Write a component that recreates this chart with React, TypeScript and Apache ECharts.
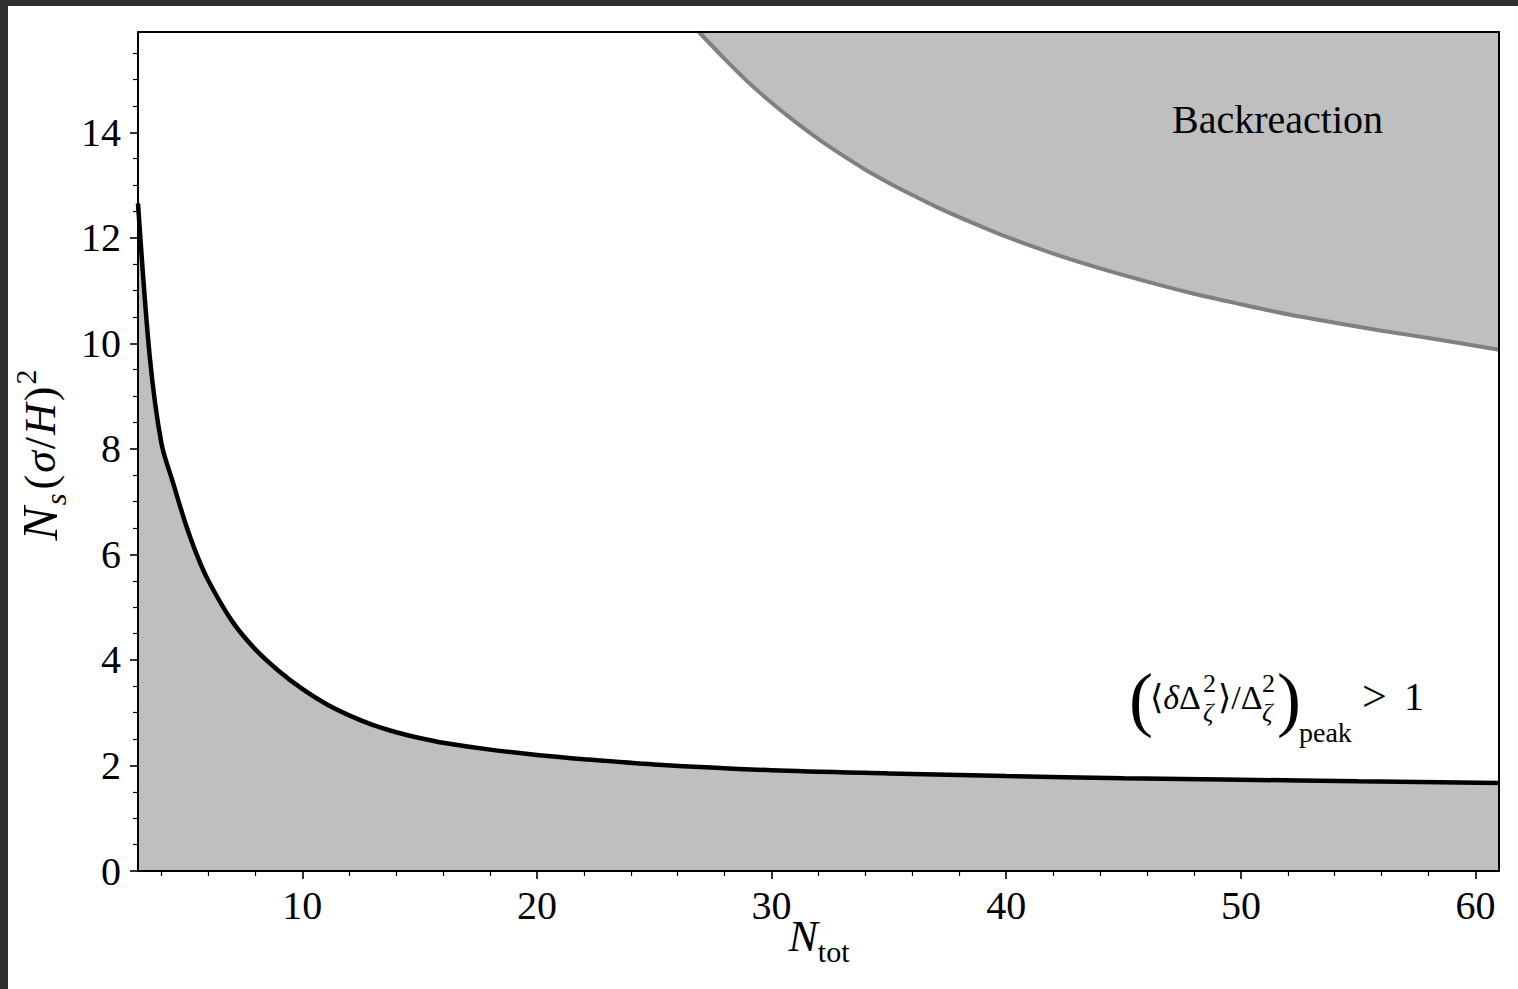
import React, { useEffect, useRef } from "react";
import * as echarts from "echarts";

// ---- data ----
const nTotPeak = [3, 3.5, 4, 4.5, 5, 5.5, 6, 7, 8, 9, 10, 11, 12, 13, 14, 15, 16, 18, 20, 22, 25, 30, 35, 40, 45, 50, 55, 61];
const peakBound = [12.65, 9.75, 8.1, 7.35, 6.62, 6.0, 5.5, 4.74, 4.2, 3.79, 3.45, 3.17, 2.95, 2.77, 2.63, 2.52, 2.43, 2.3, 2.2, 2.12, 2.02, 1.91, 1.85, 1.8, 1.76, 1.73, 1.7, 1.67];

const nTotBack = [26.9, 28, 29, 30, 31, 32, 33, 34, 35, 36, 37, 38, 40, 42, 44, 46, 48, 50, 52, 54, 56, 58, 61];
const backBound = [15.9, 15.39, 14.95, 14.56, 14.2, 13.87, 13.57, 13.29, 13.04, 12.81, 12.59, 12.39, 12.02, 11.7, 11.42, 11.17, 10.94, 10.74, 10.55, 10.39, 10.24, 10.1, 9.88];

const xMajorTicks = [10, 20, 30, 40, 50, 60];
const xMinorTicks = [4, 6, 8, 12, 14, 16, 18, 22, 24, 26, 28, 32, 34, 36, 38, 42, 44, 46, 48, 52, 54, 56, 58];
const yMajorTicks = [0, 2, 4, 6, 8, 10, 12, 14];
const yMinorTicks = [0.5, 1, 1.5, 2.5, 3, 3.5, 4.5, 5, 5.5, 6.5, 7, 7.5, 8.5, 9, 9.5, 10.5, 11, 11.5, 12.5, 13, 13.5, 14.5, 15, 15.5];

const X_MIN = 3;
const X_MAX = 61;
const Y_MIN = 0;
const Y_MAX = 15.9;

const FONT = "'Liberation Serif', 'DejaVu Serif', serif";
const FILL = "#bfbfbf";

const txt = (text: string, x: number, y: number, fontSize: number, extra: any = {}) => ({
  type: "text",
  x,
  y,
  z: 100,
  style: {
    text,
    fontSize,
    fontFamily: FONT,
    fill: "#000",
    align: "left",
    verticalAlign: "middle",
    ...extra,
  },
});

const richTxt = (text: string, x: number, y: number, rich: any) => ({
  type: "text",
  x,
  y,
  z: 100,
  style: { text, fill: "#000", align: "left", verticalAlign: "middle", rich },
});

const ANN = 34;
const annRich = {
  r: { fontSize: ANN, fontFamily: FONT, lineHeight: 40, verticalAlign: "middle" },
  i: { fontSize: ANN, fontFamily: FONT, fontStyle: "italic", lineHeight: 40, verticalAlign: "middle" },
};

export default function App() {
  const ref = useRef<HTMLDivElement>(null);

  useEffect(() => {
    document.documentElement.style.background = "#2f2f2f";
    document.body.style.margin = "6px 0 0 8px";
    document.body.style.background = "#2f2f2f";
    document.body.style.overflow = "hidden";

    const chart = echarts.init(ref.current!, undefined, { renderer: "svg" });

    const spine = { show: true, onZero: false, lineStyle: { color: "#000", width: 2 } };
    const labelStyle = { color: "#000", fontFamily: FONT, fontSize: 40, lineHeight: 40 };
    const gridBox = { left: 130, right: 19, top: 26, bottom: 118 };

    const option: any = {
      animation: false,
      backgroundColor: "#fff",
      grid: [
        { ...gridBox, containLabel: false },
        { ...gridBox, containLabel: false },
      ],
      xAxis: [
        {
          type: "value", gridIndex: 0, min: X_MIN, max: X_MAX, position: "bottom", z: 10,
          axisLine: spine,
          axisTick: { show: true, customValues: xMajorTicks, length: 8, lineStyle: { color: "#000", width: 1.6 } },
          axisLabel: { customValues: xMajorTicks, margin: 14, ...labelStyle },
          splitLine: { show: false },
        },
        {
          type: "value", gridIndex: 0, min: X_MIN, max: X_MAX, position: "top", z: 10,
          axisLine: spine, axisTick: { show: false }, axisLabel: { show: false }, splitLine: { show: false },
        },
        {
          type: "value", gridIndex: 1, min: X_MIN, max: X_MAX, position: "bottom", z: 10,
          axisLine: { show: false },
          axisTick: { show: true, customValues: xMinorTicks, length: 5, lineStyle: { color: "#000", width: 1.2 } },
          axisLabel: { show: false }, splitLine: { show: false },
        },
      ],
      yAxis: [
        {
          type: "value", gridIndex: 0, min: Y_MIN, max: Y_MAX, position: "left", z: 10,
          axisLine: spine,
          axisTick: { show: true, customValues: yMajorTicks, length: 8, lineStyle: { color: "#000", width: 1.6 } },
          axisLabel: { customValues: yMajorTicks, margin: 17, ...labelStyle },
          splitLine: { show: false },
        },
        {
          type: "value", gridIndex: 0, min: Y_MIN, max: Y_MAX, position: "right", z: 10,
          axisLine: spine, axisTick: { show: false }, axisLabel: { show: false }, splitLine: { show: false },
        },
        {
          type: "value", gridIndex: 1, min: Y_MIN, max: Y_MAX, position: "left", z: 10,
          axisLine: { show: false },
          axisTick: { show: true, customValues: yMinorTicks, length: 5, lineStyle: { color: "#000", width: 1.2 } },
          axisLabel: { show: false }, splitLine: { show: false },
        },
      ],
      series: [
        {
          type: "line", name: "Backreaction", xAxisIndex: 0, yAxisIndex: 0, z: 2,
          data: nTotBack.map((n, i) => [n, backBound[i]]),
          symbol: "none", smooth: 0.3,
          lineStyle: { color: "#808080", width: 4 },
          areaStyle: { color: FILL, opacity: 1, origin: "end" },
        },
        {
          type: "line", name: "Peak", xAxisIndex: 0, yAxisIndex: 0, z: 3,
          data: nTotPeak.map((n, i) => [n, peakBound[i]]),
          symbol: "none", smooth: 0.3,
          lineStyle: { color: "#000", width: 4.5 },
          areaStyle: { color: FILL, opacity: 1, origin: "start" },
        },
      ],
      graphic: [
        // axis titles
        {
          type: "text", x: 811, y: 930, z: 100,
          style: {
            text: "{n|N}{s|tot}", align: "center", verticalAlign: "middle", fill: "#000",
            rich: {
              n: { fontSize: 44, fontFamily: FONT, fontStyle: "italic", lineHeight: 60, verticalAlign: "middle" },
              s: { fontSize: 30, fontFamily: FONT, lineHeight: 30, verticalAlign: "bottom" },
            },
          },
        },
        {
          type: "text", x: 32, y: 449, rotation: Math.PI / 2, z: 100,
          style: {
            text: "{n|N}{s|s}{t|(}{i|σ}{t|/}{i|H}{t|)}{p|2}", align: "center", verticalAlign: "middle", fill: "#000",
            rich: {
              n: { fontSize: 50, fontFamily: FONT, fontStyle: "italic", lineHeight: 60, verticalAlign: "middle", padding: [0, 2, 0, 0] },
              s: { fontSize: 30, fontFamily: FONT, fontStyle: "italic", lineHeight: 30, verticalAlign: "bottom", padding: [0, 2, 0, 0] },
              t: { fontSize: 44, fontFamily: FONT, lineHeight: 60, verticalAlign: "middle", padding: [0, 2, 0, 2] },
              i: { fontSize: 44, fontFamily: FONT, fontStyle: "italic", lineHeight: 60, verticalAlign: "middle" },
              p: { fontSize: 30, fontFamily: FONT, lineHeight: 36, verticalAlign: "top" },
            },
          },
        },
        // region labels
        txt("Backreaction", 1164, 113.5, 40),
        txt("(", 1121, 693, 72),
        richTxt("{r|⟨}{i|δ}{r|Δ}", 1142, 691.5, annRich),
        txt("2", 1195, 677, 26),
        txt("ζ", 1195, 706, 26, { fontStyle: "italic" }),
        richTxt("{r|⟩/Δ}", 1210, 691.5, annRich),
        txt("2", 1254, 677, 26),
        txt("ζ", 1254, 706, 26, { fontStyle: "italic" }),
        txt(")", 1269, 693, 72),
        txt("peak", 1291, 726.5, 28),
        txt(">", 1354, 690.5, 44),
        txt("1", 1396, 690.5, 40),
      ],
    };

    chart.setOption(option);
    return () => chart.dispose();
  }, []);

  return <div ref={ref} style={{ width: 1510, height: 983, background: "#fff" }} />;
}
